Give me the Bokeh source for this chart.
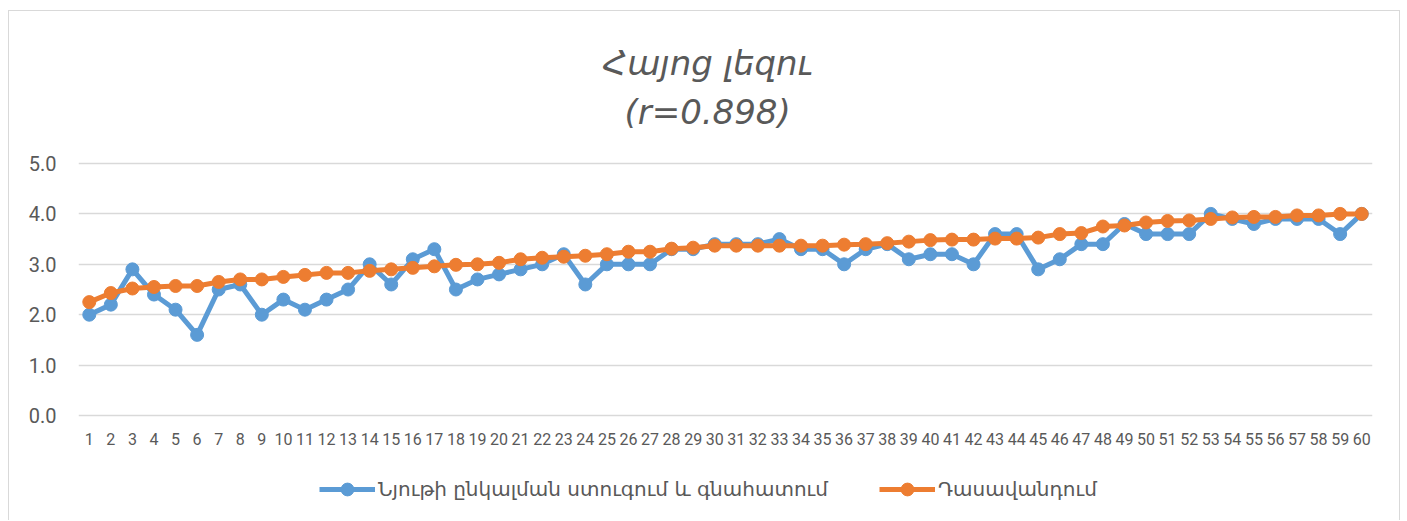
from bokeh.plotting import figure
from bokeh.models import FactorRange, Range1d, FixedTicker, NumeralTickFormatter, Label, Legend, LegendItem
from bokeh.embed import file_html
from bokeh.resources import INLINE

categories = [str(i) for i in range(1, 61)]

series_blue_name = "Նյութի ընկալման ստուգում և գնահատում"
series_blue = [2.0, 2.2, 2.9, 2.4, 2.1, 1.6, 2.5, 2.6, 2.0, 2.3,
               2.1, 2.3, 2.5, 3.0, 2.6, 3.1, 3.3, 2.5, 2.7, 2.8,
               2.9, 3.0, 3.2, 2.6, 3.0, 3.0, 3.0, 3.3, 3.3, 3.4,
               3.4, 3.4, 3.5, 3.3, 3.3, 3.0, 3.3, 3.4, 3.1, 3.2,
               3.2, 3.0, 3.6, 3.6, 2.9, 3.1, 3.4, 3.4, 3.8, 3.6,
               3.6, 3.6, 4.0, 3.9, 3.8, 3.9, 3.9, 3.9, 3.6, 4.0]

series_orange_name = "Դասավանդում"
series_orange = [2.25, 2.43, 2.52, 2.55, 2.57, 2.57, 2.65, 2.70, 2.70, 2.75,
                 2.79, 2.83, 2.83, 2.87, 2.90, 2.93, 2.96, 2.99, 3.00, 3.03,
                 3.10, 3.13, 3.15, 3.17, 3.20, 3.25, 3.25, 3.31, 3.33, 3.37,
                 3.37, 3.37, 3.37, 3.37, 3.37, 3.39, 3.40, 3.42, 3.45, 3.48,
                 3.49, 3.49, 3.51, 3.51, 3.53, 3.60, 3.62, 3.75, 3.77, 3.83,
                 3.86, 3.87, 3.90, 3.93, 3.94, 3.94, 3.97, 3.97, 4.00, 4.00]

y_ticks = [0, 1, 2, 3, 4, 5]
title_line1 = "Հայոց լեզու"
title_line2 = "(r=0.898)"

BLUE = "#5B9BD5"
ORANGE = "#ED7D31"
TXT = "#595959"
GRID = "#D9D9D9"

# frame spans the whole chart height so that title and legend (drawn inside it) are not clipped
p = figure(x_range=FactorRange(*categories), y_range=Range1d(-2.083, 8.016),
           frame_width=1294, frame_height=509, output_backend="svg", toolbar_location=None,
           min_border_left=69, min_border_right=27, min_border_top=0, min_border_bottom=0)
p.styles = {"margin-left": "8px", "margin-top": "10px", "border": "1px solid #D9D9D9",
            "border-bottom": "none"}
p.outline_line_color = None
p.background_fill_color = "white"
p.border_fill_color = "white"

p.xgrid.grid_line_color = None
p.ygrid.grid_line_color = GRID
p.ygrid.grid_line_width = 1.5
p.yaxis.ticker = FixedTicker(ticks=y_ticks)
p.ygrid.ticker = FixedTicker(ticks=y_ticks)
p.yaxis.formatter = NumeralTickFormatter(format="0.0")
p.xaxis.fixed_location = 0

for ax in (p.xaxis[0], p.yaxis[0]):
    ax.axis_line_color = None
    ax.major_tick_line_color = None
    ax.minor_tick_line_color = None
    ax.major_tick_out = 0
    ax.major_tick_in = 0
    ax.major_label_text_color = TXT
    ax.major_label_text_font = "Roboto"
p.xaxis.major_label_text_font_size = "16px"
p.yaxis.major_label_text_font_size = "20px"
p.xaxis.major_label_standoff = 17
p.yaxis.major_label_standoff = 22

lb = p.line(categories, series_blue, line_color=BLUE, line_width=5)
mb = p.scatter(categories, series_blue, size=13, fill_color=BLUE, line_color=BLUE)
lo = p.line(categories, series_orange, line_color=ORANGE, line_width=5)
mo = p.scatter(categories, series_orange, size=13, fill_color=ORANGE, line_color=ORANGE)

def mk_legend(name, rends, x):
    lg = Legend(items=[LegendItem(label=name, renderers=rends)], location=(x, 15),
                orientation="horizontal", glyph_width=56, glyph_height=32,
                label_standoff=3, padding=0, margin=0, border_line_color=None,
                background_fill_alpha=0, label_text_font="DejaVu Sans",
                label_text_font_size="20px", label_text_color=TXT)
    p.add_layout(lg, "center")

mk_legend(series_blue_name, [lb, mb], 241)
mk_legend(series_orange_name, [lo, mo], 801)

for txt, yv in ((title_line1, 7.0), (title_line2, 6.03)):
    p.add_layout(Label(x=29.17, y=yv, text=txt, text_align="center", text_baseline="alphabetic",
                       text_font="DejaVu Sans", text_font_style="italic",
                       text_font_size="34px", text_color=TXT))

open("out.html", "w").write(file_html(p, INLINE))
